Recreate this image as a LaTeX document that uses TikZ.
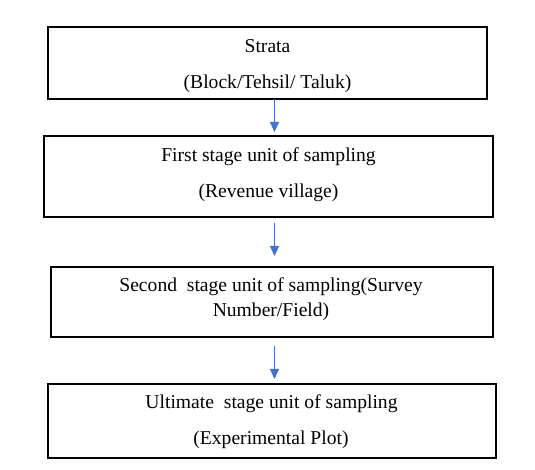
\documentclass[tikz,border=0pt]{standalone}
\usepackage{fontspec}
\setmainfont{Liberation Serif}
\usetikzlibrary{arrows.meta}
\definecolor{arrowblue}{HTML}{4472C4}
\begin{document}
\begin{tikzpicture}[x=1pt,y=1pt,
  stagebox/.style={draw=black,line width=1.3pt,rectangle,inner sep=0pt,outer sep=0pt},
  linetext/.style={anchor=base,inner sep=0pt,font=\fontsize{19.6}{24}\selectfont},
  flowarrow/.style={draw=arrowblue,line width=1pt,-{Triangle[length=10pt,width=9pt]}}]
\useasboundingbox (0,0) rectangle (535,470);
\node[stagebox,minimum width=439pt,minimum height=72pt] (b1) at (267.5,407) {};
\node[stagebox,minimum width=449pt,minimum height=81pt] (b2) at (268.5,293.5) {};
\node[stagebox,minimum width=442pt,minimum height=70pt] (b3) at (272,168) {};
\node[stagebox,minimum width=448pt,minimum height=74pt] (b4) at (272,49) {};
\node[linetext] (t1a) at (267.5,417) {Strata};
\node[linetext] (t1b) at (267.5,381) {(Block/Tehsil/ Taluk)};
\node[linetext] (t2a) at (268.5,308.3) {First stage unit of sampling};
\node[linetext] (t2b) at (268.5,272) {(Revenue village)};
\node[linetext] (t3a) at (271,178.3) {Second~~stage unit of sampling(Survey};
\node[linetext] (t3b) at (271,153.3) {Number/Field)};
\node[linetext] (t4a) at (271.5,61.7) {Ultimate~~stage unit of sampling};
\node[linetext] (t4b) at (271,25) {(Experimental Plot)};
\coordinate (s1) at (274.5,371);
\coordinate (e1) at (274.5,338);
\coordinate (s2) at (274.5,247);
\coordinate (e2) at (274.5,214);
\coordinate (s3) at (274.5,124);
\coordinate (e3) at (274.5,91);
\draw[flowarrow] (s1) -- (e1);
\draw[flowarrow] (s2) -- (e2);
\draw[flowarrow] (s3) -- (e3);
\end{tikzpicture}
\end{document}
